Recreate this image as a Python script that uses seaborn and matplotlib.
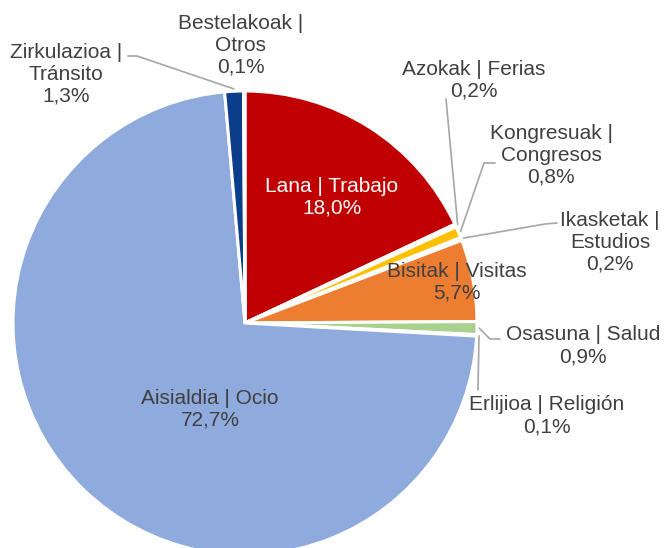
import numpy as np
import matplotlib
matplotlib.use("Agg")
import matplotlib.pyplot as plt
import seaborn as sns

# Datuak | datos
labels = ["Lana | Trabajo", "Azokak | Ferias", "Kongresuak |\nCongresos",
          "Ikasketak |\nEstudios", "Bisitak | Visitas", "Osasuna | Salud",
          "Erlijioa | Religión", "Aisialdia | Ocio", "Zirkulazioa |\nTránsito",
          "Bestelakoak |\nOtros"]
values = [18.0, 0.2, 0.8, 0.2, 5.7, 0.9, 0.1, 72.7, 1.3, 0.1]
colors = ["#C00000", "#7F7F7F", "#FFC000", "#5B9BD5", "#ED7D31", "#A9D18E",
          "#70AD47", "#8FAADC", "#0A3D8A", "#264478"]

sns.set_theme(style="white")
plt.rcParams["font.family"] = ["Liberation Sans", "DejaVu Sans"]

W, H = 664, 548
CX, CY, R = 245, 323, 232


def px(x, y):
    # pixel -> datu koordenatuak
    return (x - CX) / R, (CY - y) / R


# etiketen kokapena (pixeletan) eta gida-lerroen ukondoa
label_pos = [(332, 197), (474, 80), (551, 155), (610, 242), (457, 282),
             (583, 346), (547, 416), (210, 409), (66, 74), (241, 45)]
leaders = {1: [(446, 99)],
           2: [(495, 163), (484, 163)],
           3: [(557, 223), (545, 224)],
           5: [(500, 339), (490, 339)],
           6: [(478, 390)],
           8: [(128, 56), (137, 56)]}

fig = plt.figure(figsize=(W / 100, H / 100), dpi=100)
ax = fig.add_axes([0, 0, 1, 1])
wedges, _ = ax.pie(values, colors=colors, startangle=90, counterclock=False,
                   radius=1, center=(0, 0),
                   wedgeprops=dict(edgecolor="white", linewidth=2.2))
ax.set_xlim(-CX / R, (W - CX) / R)
ax.set_ylim((CY - H) / R, CY / R)
ax.axis("off")

for i, (lab, val) in enumerate(zip(labels, values)):
    txt = f"{lab}\n{val:.1f}%".replace(".", ",")
    col = "white" if i == 0 else "#404040"
    x, y = px(*label_pos[i])
    ax.text(x, y, txt, ha="center", va="center", fontsize=15, color=col)
    if i in leaders:
        w = wedges[i]
        ang = np.deg2rad((w.theta1 + w.theta2) / 2)
        pts = [px(*p) for p in leaders[i]] + [(1.01 * np.cos(ang), 1.01 * np.sin(ang))]
        xs, ys = zip(*pts)
        ax.plot(xs, ys, color="#A6A6A6", lw=1.2, zorder=0.5)

fig.savefig("out.png", dpi=100)
